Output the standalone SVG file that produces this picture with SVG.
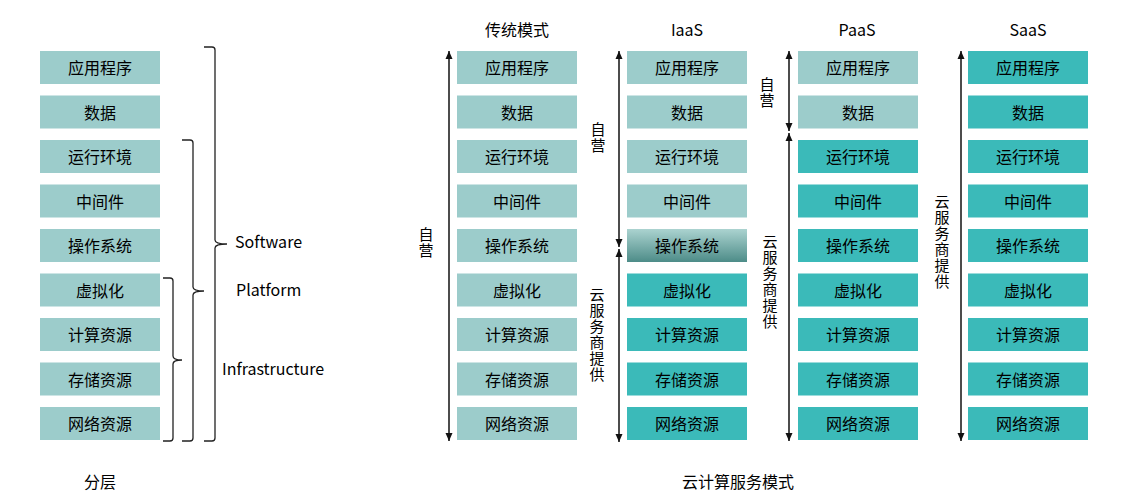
<svg xmlns="http://www.w3.org/2000/svg" width="1132" height="497" viewBox="0 0 1132 497">
<style>
text{font-family:"Noto Sans CJK SC","Liberation Sans",sans-serif;font-size:16px;fill:#000}
.bt{text-anchor:middle}
.l{fill:#9ccccb}
.t{fill:#3bbab9}
.g{fill:url(#grad)}
.arr{stroke:#111;stroke-width:1.5;fill:none;marker-start:url(#ah);marker-end:url(#ah)}
.br{stroke:#222;stroke-width:1.3;fill:none}
.v{writing-mode:vertical-rl;font-size:15px;letter-spacing:1px}
</style>
<defs>
<linearGradient id="grad" x1="0" y1="0" x2="0" y2="1">
<stop offset="0" stop-color="#abd3d0"/>
<stop offset="1" stop-color="#4d8c88"/>
</linearGradient>
<marker id="ah" markerUnits="userSpaceOnUse" markerWidth="8" markerHeight="8" refX="8" refY="4" orient="auto-start-reverse">
<path d="M0,0.5 L8,4 L0,7.5 z" fill="#111"/>
</marker>
</defs>

<!-- Left layered column -->
<g id="L1"><rect class="l" x="40" y="51" width="120" height="33"/><text class="bt" x="100" y="74">应用程序</text></g>
<g id="L2"><rect class="l" x="40" y="95.5" width="120" height="33"/><text class="bt" x="100" y="118.5">数据</text></g>
<g id="L3"><rect class="l" x="40" y="140" width="120" height="33"/><text class="bt" x="100" y="163">运行环境</text></g>
<g id="L4"><rect class="l" x="40" y="184.5" width="120" height="33"/><text class="bt" x="100" y="207.5">中间件</text></g>
<g id="L5"><rect class="l" x="40" y="229" width="120" height="33"/><text class="bt" x="100" y="252">操作系统</text></g>
<g id="L6"><rect class="l" x="40" y="273.5" width="120" height="33"/><text class="bt" x="100" y="296.5">虚拟化</text></g>
<g id="L7"><rect class="l" x="40" y="318" width="120" height="33"/><text class="bt" x="100" y="341">计算资源</text></g>
<g id="L8"><rect class="l" x="40" y="362.5" width="120" height="33"/><text class="bt" x="100" y="385.5">存储资源</text></g>
<g id="L9"><rect class="l" x="40" y="407" width="120" height="33"/><text class="bt" x="100" y="430">网络资源</text></g>

<!-- Traditional -->
<g id="T1"><rect class="l" x="457" y="51" width="120" height="33"/><text class="bt" x="517" y="74">应用程序</text></g>
<g id="T2"><rect class="l" x="457" y="95.5" width="120" height="33"/><text class="bt" x="517" y="118.5">数据</text></g>
<g id="T3"><rect class="l" x="457" y="140" width="120" height="33"/><text class="bt" x="517" y="163">运行环境</text></g>
<g id="T4"><rect class="l" x="457" y="184.5" width="120" height="33"/><text class="bt" x="517" y="207.5">中间件</text></g>
<g id="T5"><rect class="l" x="457" y="229" width="120" height="33"/><text class="bt" x="517" y="252">操作系统</text></g>
<g id="T6"><rect class="l" x="457" y="273.5" width="120" height="33"/><text class="bt" x="517" y="296.5">虚拟化</text></g>
<g id="T7"><rect class="l" x="457" y="318" width="120" height="33"/><text class="bt" x="517" y="341">计算资源</text></g>
<g id="T8"><rect class="l" x="457" y="362.5" width="120" height="33"/><text class="bt" x="517" y="385.5">存储资源</text></g>
<g id="T9"><rect class="l" x="457" y="407" width="120" height="33"/><text class="bt" x="517" y="430">网络资源</text></g>

<!-- IaaS -->
<g id="I1"><rect class="l" x="627" y="51" width="120" height="33"/><text class="bt" x="687" y="74">应用程序</text></g>
<g id="I2"><rect class="l" x="627" y="95.5" width="120" height="33"/><text class="bt" x="687" y="118.5">数据</text></g>
<g id="I3"><rect class="l" x="627" y="140" width="120" height="33"/><text class="bt" x="687" y="163">运行环境</text></g>
<g id="I4"><rect class="l" x="627" y="184.5" width="120" height="33"/><text class="bt" x="687" y="207.5">中间件</text></g>
<g id="I5"><rect class="g" x="627" y="229" width="120" height="33"/><text class="bt" x="687" y="252">操作系统</text></g>
<g id="I6"><rect class="t" x="627" y="273.5" width="120" height="33"/><text class="bt" x="687" y="296.5">虚拟化</text></g>
<g id="I7"><rect class="t" x="627" y="318" width="120" height="33"/><text class="bt" x="687" y="341">计算资源</text></g>
<g id="I8"><rect class="t" x="627" y="362.5" width="120" height="33"/><text class="bt" x="687" y="385.5">存储资源</text></g>
<g id="I9"><rect class="t" x="627" y="407" width="120" height="33"/><text class="bt" x="687" y="430">网络资源</text></g>

<!-- PaaS -->
<g id="P1"><rect class="l" x="798" y="51" width="120" height="33"/><text class="bt" x="858" y="74">应用程序</text></g>
<g id="P2"><rect class="l" x="798" y="95.5" width="120" height="33"/><text class="bt" x="858" y="118.5">数据</text></g>
<g id="P3"><rect class="t" x="798" y="140" width="120" height="33"/><text class="bt" x="858" y="163">运行环境</text></g>
<g id="P4"><rect class="t" x="798" y="184.5" width="120" height="33"/><text class="bt" x="858" y="207.5">中间件</text></g>
<g id="P5"><rect class="t" x="798" y="229" width="120" height="33"/><text class="bt" x="858" y="252">操作系统</text></g>
<g id="P6"><rect class="t" x="798" y="273.5" width="120" height="33"/><text class="bt" x="858" y="296.5">虚拟化</text></g>
<g id="P7"><rect class="t" x="798" y="318" width="120" height="33"/><text class="bt" x="858" y="341">计算资源</text></g>
<g id="P8"><rect class="t" x="798" y="362.5" width="120" height="33"/><text class="bt" x="858" y="385.5">存储资源</text></g>
<g id="P9"><rect class="t" x="798" y="407" width="120" height="33"/><text class="bt" x="858" y="430">网络资源</text></g>

<!-- SaaS -->
<g id="S1"><rect class="t" x="968" y="51" width="120" height="33"/><text class="bt" x="1028" y="74">应用程序</text></g>
<g id="S2"><rect class="t" x="968" y="95.5" width="120" height="33"/><text class="bt" x="1028" y="118.5">数据</text></g>
<g id="S3"><rect class="t" x="968" y="140" width="120" height="33"/><text class="bt" x="1028" y="163">运行环境</text></g>
<g id="S4"><rect class="t" x="968" y="184.5" width="120" height="33"/><text class="bt" x="1028" y="207.5">中间件</text></g>
<g id="S5"><rect class="t" x="968" y="229" width="120" height="33"/><text class="bt" x="1028" y="252">操作系统</text></g>
<g id="S6"><rect class="t" x="968" y="273.5" width="120" height="33"/><text class="bt" x="1028" y="296.5">虚拟化</text></g>
<g id="S7"><rect class="t" x="968" y="318" width="120" height="33"/><text class="bt" x="1028" y="341">计算资源</text></g>
<g id="S8"><rect class="t" x="968" y="362.5" width="120" height="33"/><text class="bt" x="1028" y="385.5">存储资源</text></g>
<g id="S9"><rect class="t" x="968" y="407" width="120" height="33"/><text class="bt" x="1028" y="430">网络资源</text></g>

<!-- Headers -->
<g id="headers">
<text class="bt" x="517" y="36">传统模式</text>
<text class="bt" x="687" y="36">IaaS</text>
<text class="bt" x="857" y="36">PaaS</text>
<text class="bt" x="1028" y="36">SaaS</text>
<text class="bt" x="100" y="488">分层</text>
<text class="bt" x="738" y="488">云计算服务模式</text>
</g>

<!-- Braces -->
<g id="braces">
<path class="br" d="M204,47 L212,47 Q215,47 215,50 L215,240 Q215,244 227,244 Q215,244 215,248 L215,438 Q215,441 212,441 L204,441"/>
<path class="br" d="M182,140 L190,140 Q193,140 193,143 L193,287 Q193,291 204,291 Q193,291 193,295 L193,438 Q193,441 190,441 L182,441"/>
<path class="br" d="M163,278 L170,278 Q173,278 173,281 L173,356 Q173,360 182,360 Q173,360 173,364 L173,438 Q173,441 170,441 L163,441"/>
<text x="235" y="248">Software</text>
<text x="236" y="296">Platform</text>
<text x="222" y="375">Infrastructure</text>
</g>

<!-- Connectors -->
<g id="connectors">
<line class="arr" x1="449" y1="441" x2="449" y2="51"/>
<line class="arr" x1="619" y1="247" x2="619" y2="51"/>
<line class="arr" x1="619" y1="249" x2="619" y2="442"/>
<line class="arr" x1="789" y1="131" x2="789" y2="51"/>
<line class="arr" x1="789" y1="133" x2="789" y2="441"/>
<line class="arr" x1="961" y1="441" x2="961" y2="51"/>
</g>

<!-- Vertical labels -->
<g id="vlabels">
<text class="v" x="426" y="227">自营</text>
<text class="v" x="598" y="122">自营</text>
<text class="v" x="597" y="287">云服务商提供</text>
<text class="v" x="767" y="77">自营</text>
<text class="v" x="770" y="234">云服务商提供</text>
<text class="v" x="942" y="194">云服务商提供</text>
</g>
</svg>
